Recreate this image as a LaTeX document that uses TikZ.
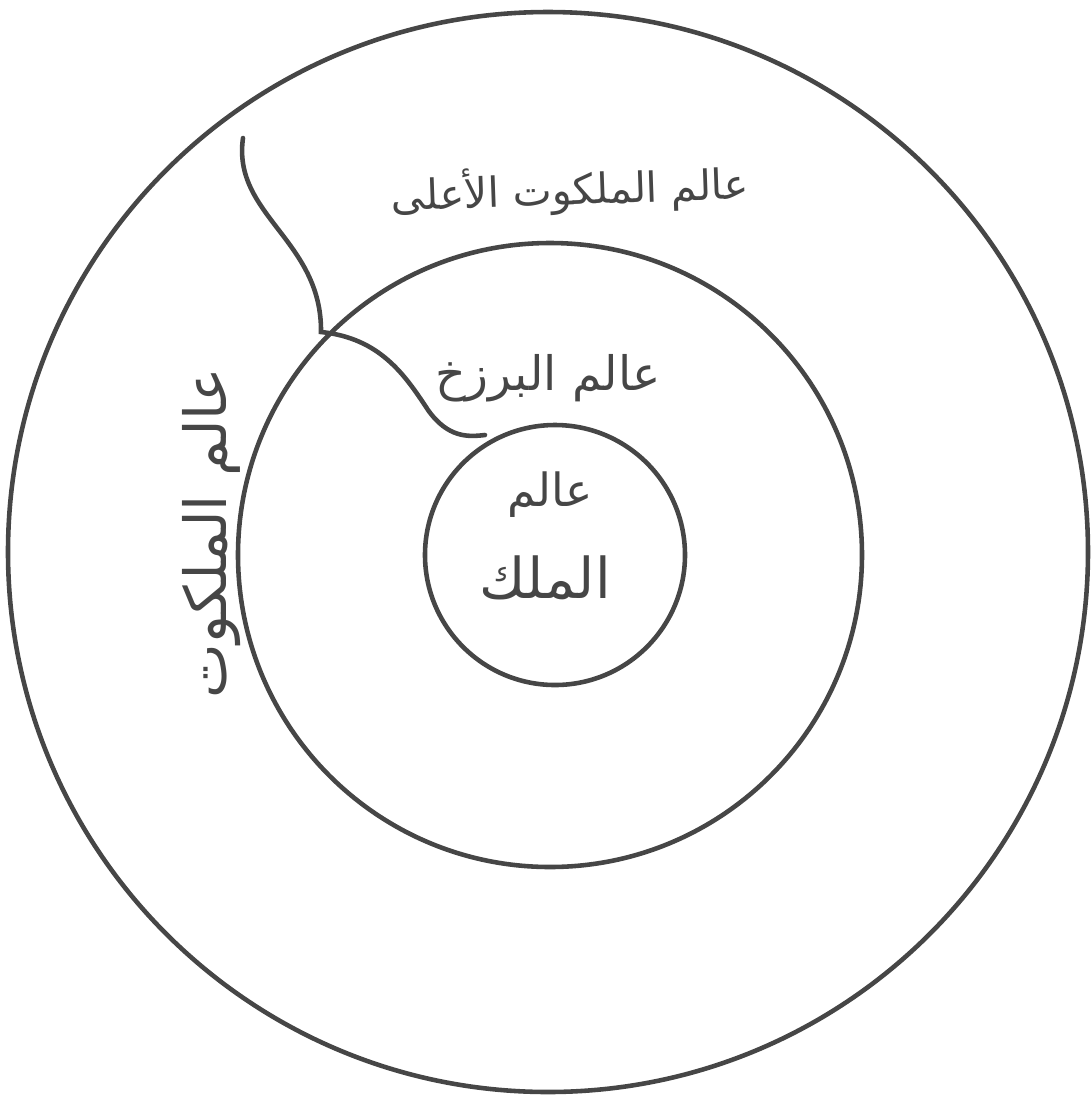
\documentclass[tikz,border=0pt]{standalone}
\usepackage{fontspec}
\usepackage{xcolor}
\TeXXeTstate=1
\newfontfamily\arabicfont[Script=Arabic]{DejaVu Sans}
\definecolor{inkGrey}{RGB}{70,70,70}
\tikzset{
  ring/.style={draw=inkGrey,line width=1.3pt},
  label/.style={text=inkGrey,inner sep=1pt,font=\arabicfont\fontsize{#1}{#1}\selectfont},
  label/.default=14
}
\begin{document}
\begin{tikzpicture}[x=0.01cm,y=-0.01cm]
\useasboundingbox (0,0) rectangle (1092,1099);
% the three worlds
\draw[ring] (548,552) circle[radius=540];
\draw[ring] (550,555) circle[radius=312];
\draw[ring] (555,555) circle[radius=130];
% dividing stroke
\draw[ring,line cap=round] (243,138) .. controls (232,215) and (322,240) .. (321,332)
  .. controls (380,338) and (405,375) .. (428,410)
  .. controls (448,438) and (468,437) .. (485,435);
% labels
\node[label=11.8,rotate=2] (malakutTop) at (570,190) {\beginR عالم الملكوت الأعلى\endR};
\node[label=13.5] (barzakh) at (548,378) {\beginR عالم البرزخ\endR};
\node[label=13] (mulkA) at (550,495) {\beginR عالم\endR};
\node[label=16] (mulkB) at (545,578) {\beginR الملك\endR};
\node[label=16.5,rotate=90,anchor=base] (malakut) at (226,533) {\beginR عالم الملكوت\endR};
\end{tikzpicture}
\end{document}
